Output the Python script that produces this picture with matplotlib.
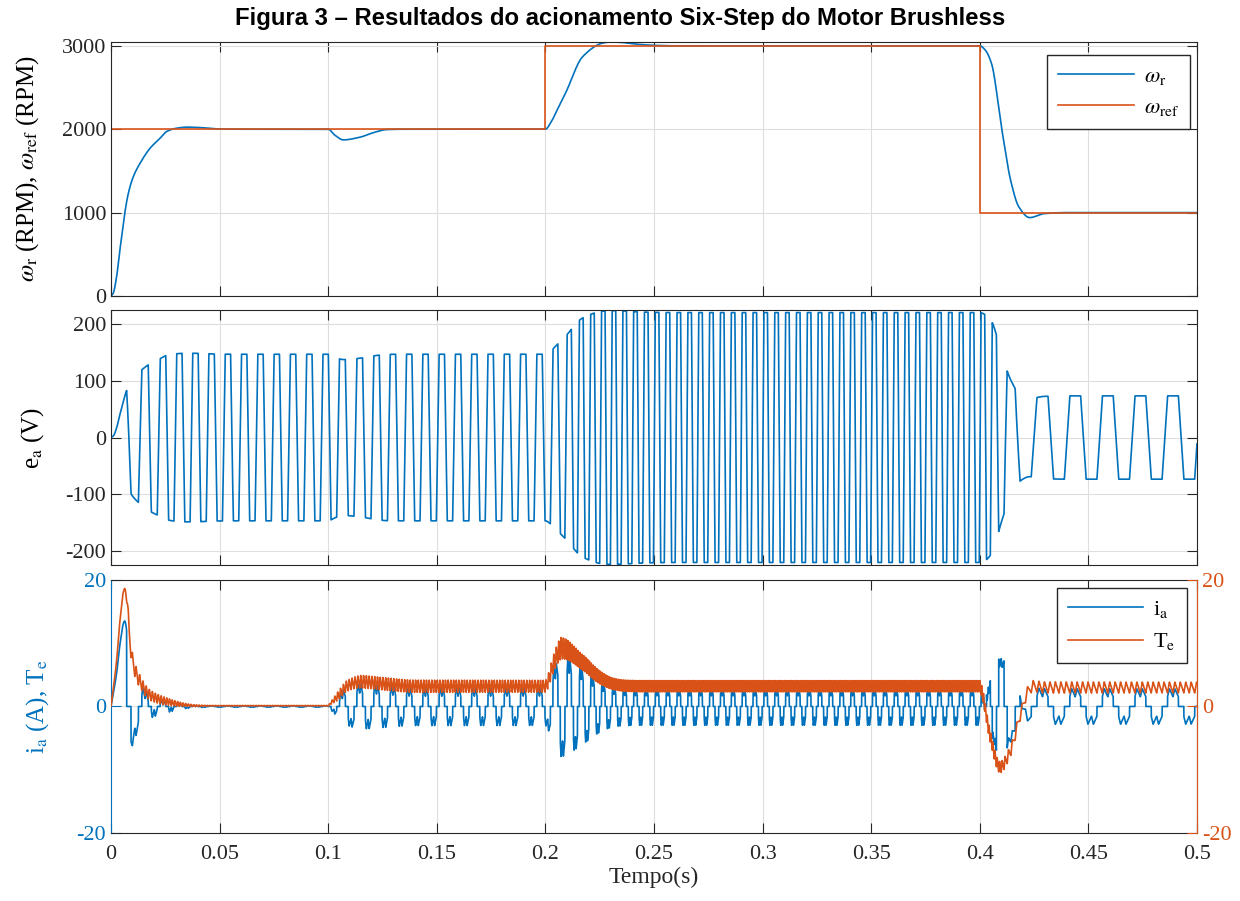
import numpy as np
import matplotlib.pyplot as plt

plt.rcParams['font.family'] = ['Liberation Serif', 'DejaVu Serif']
plt.rcParams['mathtext.fontset'] = 'stix'
plt.rcParams['axes.unicode_minus'] = False

azul = '#0072BD'
laranja = '#D95319'
cinza = '#262626'

# velocidade do rotor (s, RPM)
t_w = [0, 0.001, 0.0026, 0.0041, 0.0054, 0.0064, 0.008, 0.0103, 0.0134, 0.018,
       0.0226, 0.0256, 0.0302, 0.0348, 0.041, 0.0486, 0.06, 0.1, 0.103, 0.107,
       0.1146, 0.121, 0.127, 0.135, 0.2, 0.2025, 0.2055, 0.2094, 0.2171, 0.2268,
       0.230, 0.2345, 0.242, 0.25, 0.26, 0.4, 0.4025, 0.4054, 0.4102, 0.4142,
       0.418, 0.423, 0.4297, 0.44, 0.5]
w_r = [0, 32, 232, 552, 792, 1000, 1232, 1432, 1592, 1772,
       1892, 1972, 2012, 2025, 2020, 2004, 2000, 2000, 1930, 1872,
       1904, 1960, 1996, 2000, 2000, 2080, 2235, 2440, 2868, 3036,
       3046, 3042, 3020, 3006, 3000, 3000, 2950, 2788, 1988, 1388,
       1068, 940, 988, 1000, 1000]

# referencia de velocidade
t_ref = [0, 0.2, 0.2, 0.4, 0.4, 0.5]
w_ref = [2000, 2000, 3000, 3000, 1000, 1000]

# torque medio (N.m) e ondulacao pico a pico
t_T = [0, 0.0026, 0.0041, 0.0057, 0.0064, 0.0075, 0.0084, 0.0102, 0.0134, 0.018,
       0.0256, 0.033, 0.04, 0.1, 0.1008, 0.1054, 0.1085, 0.115, 0.125, 0.14,
       0.2, 0.201, 0.204, 0.2075, 0.2174, 0.2251, 0.231, 0.236, 0.245, 0.4,
       0.4008, 0.4047, 0.4093, 0.4139, 0.4185, 0.4224, 0.4245, 0.43, 0.5]
T_med = [0, 7.3, 13.6, 17.9, 18.6, 16.5, 11.5, 6.8, 3.9, 1.8,
         0.8, 0.3, 0.12, 0.12, 0.4, 2.0, 3.2, 3.9, 3.6, 3.2,
         3.2, 3.8, 7.0, 9.2, 6.9, 4.6, 3.6, 3.3, 3.2, 3.2,
         2.5, -4.5, -9.6, -7.2, -1.5, 2.5, 3.2, 3.0, 3.0]
t_rip = [0, 0.006, 0.008, 0.015, 0.025, 0.035, 0.045, 0.1, 0.105, 0.115,
         0.2, 0.207, 0.215, 0.23, 0.4, 0.41, 0.5]
T_pp = [0, 0.5, 2.5, 1.8, 1.2, 0.4, 0.1, 0.1, 1.5, 2.0,
        1.9, 3.5, 2.6, 1.8, 1.8, 1.8, 1.7]

Ke = 0.0735     # V/RPM (147 V a 2000 RPM)
Kt = 1.38       # N.m/A (18.6 N.m com 13.5 A)
pp = 4          # pares de polos (133 Hz a 2000 RPM)
t_com1 = 0.0072 # primeira comutacao de e_a


def pchip(x, y, xn):
    # curva suave (monotona) passando pelos pontos lidos
    x = np.asarray(x, float)
    y = np.asarray(y, float)
    h = np.diff(x)
    d = np.diff(y) / h
    m = np.zeros_like(y)
    m[0], m[-1] = d[0], d[-1]
    for k in range(1, len(y) - 1):
        if d[k - 1] * d[k] > 0:
            w1 = 2 * h[k] + h[k - 1]
            w2 = h[k] + 2 * h[k - 1]
            m[k] = (w1 + w2) / (w1 / d[k - 1] + w2 / d[k])
    i = np.clip(np.searchsorted(x, xn, side='right') - 1, 0, len(h) - 1)
    s = (xn - x[i]) / h[i]
    return ((2 * s**3 - 3 * s**2 + 1) * y[i] + (s**3 - 2 * s**2 + s) * h[i] * m[i]
            + (-2 * s**3 + 3 * s**2) * y[i + 1] + (s**3 - s**2) * h[i] * m[i + 1])


t = np.linspace(0, 0.5, 50001)
dt = t[1] - t[0]
w = pchip(t_w, w_r, t)
theta = 360 * pp * np.cumsum(w / 60) * dt
theta = theta + 150 - np.interp(t_com1, t, theta)
m = theta % 360

F = np.interp(m, [0, 30, 150, 210, 330, 360], [0, 1, 1, -1, -1, 0])
e_a = Ke * w * F

G = np.where((m >= 30) & (m < 150), 1.0, np.where((m >= 210) & (m < 330), -1.0, 0.0))
phi = ((theta - 30) % 60) / 60
rip = np.interp(phi, [0, 0.35, 1], [-0.5, 0.5, -0.5])
T_e = pchip(t_T, T_med, t) + np.interp(t, t_rip, T_pp) * rip
i_a = T_e / Kt * G

fig = plt.figure(figsize=(12.4, 9.01), dpi=100)
ax1 = fig.add_axes([0.0895, 0.6715, 0.8758, 0.2819])
ax2 = fig.add_axes([0.0895, 0.3729, 0.8758, 0.283])
ax3 = fig.add_axes([0.0895, 0.0755, 0.8758, 0.2808])
ax3r = ax3.twinx()

fig.text(0.5, 0.979, 'Figura 3 – Resultados do acionamento Six-Step do Motor Brushless',
         ha='center', va='center', fontsize=17.2, fontweight='bold', family='Liberation Sans')

for ax in [ax1, ax2, ax3]:
    ax.set_xlim(0, 0.5)
    ax.set_xticks(np.arange(0, 0.501, 0.05))
    ax.grid(True, color='#dedede', linewidth=0.8)
    ax.set_axisbelow(True)
    ax.tick_params(direction='in', top=True, right=True, length=7, width=0.8,
                   labelsize=16, colors=cinza)
    ax.tick_params(axis='x', pad=9)
    for s in ax.spines.values():
        s.set_color(cinza)
        s.set_linewidth(0.8)

# painel 1
ax1.plot(t, w, color=azul, lw=1.2, label=r'$\omega_{\mathrm{r}}$')
ax1.plot(t_ref, w_ref, color=laranja, lw=1.2, label=r'$\omega_{\mathrm{ref}}$')
ax1.set_ylim(0, 3046)
ax1.set_yticks([0, 1000, 2000, 3000])
ax1.set_xticklabels([])
ax1.set_ylabel(r'$\omega_{\mathrm{r}}$ (RPM), $\omega_{\mathrm{ref}}$ (RPM)', fontsize=18)
ax1.yaxis.set_label_coords(-0.064, 0.5)
ax1.legend(loc='upper right', bbox_to_anchor=(0.9936, 0.949), borderaxespad=0,
           fontsize=16, fancybox=False, edgecolor=cinza, framealpha=1,
           handlelength=3.4, handletextpad=0.45, borderpad=0.5)

# painel 2
ax2.plot(t, e_a, color=azul, lw=1.2)
ax2.set_ylim(-225, 225)
ax2.set_yticks([-200, -100, 0, 100, 200])
ax2.set_xticklabels([])
ax2.set_ylabel(r'e$_{\mathrm{a}}$ (V)', fontsize=18)
ax2.yaxis.set_label_coords(-0.06, 0.5)

# painel 3
l1, = ax3.plot(t, i_a, color=azul, lw=1.2, label=r'i$_{\mathrm{a}}$')
l2, = ax3r.plot(t, T_e, color=laranja, lw=1.2, label=r'T$_{\mathrm{e}}$')
ax3.set_ylim(-20, 20)
ax3r.set_ylim(-20, 20)
ax3.set_yticks([-20, 0, 20])
ax3r.set_yticks([-20, 0, 20])
ax3.set_xticklabels(['0', '0.05', '0.1', '0.15', '0.2', '0.25', '0.3', '0.35', '0.4', '0.45', '0.5'])
ax3.tick_params(axis='y', colors=azul, right=False)
ax3.spines['left'].set_color(azul)
ax3r.tick_params(direction='in', length=7, width=0.8, labelsize=16, colors=laranja)
for s in ['left', 'top', 'bottom']:
    ax3r.spines[s].set_visible(False)
ax3r.spines['right'].set_color(laranja)
ax3r.spines['right'].set_linewidth(0.8)
ax3.set_ylabel(r'i$_{\mathrm{a}}$ (A), T$_{\mathrm{e}}$', fontsize=18, color=azul)
ax3.yaxis.set_label_coords(-0.055, 0.5)
ax3.set_xlabel('Tempo(s)', fontsize=17, color=cinza, labelpad=2)
ax3r.legend([l1, l2], [l1.get_label(), l2.get_label()], loc='upper right',
            bbox_to_anchor=(0.9908, 0.968), borderaxespad=0, fontsize=16,
            fancybox=False, edgecolor=cinza, framealpha=1, handlelength=3.4,
            handletextpad=0.45, borderpad=0.5)

fig.savefig('out.png', dpi=100)
